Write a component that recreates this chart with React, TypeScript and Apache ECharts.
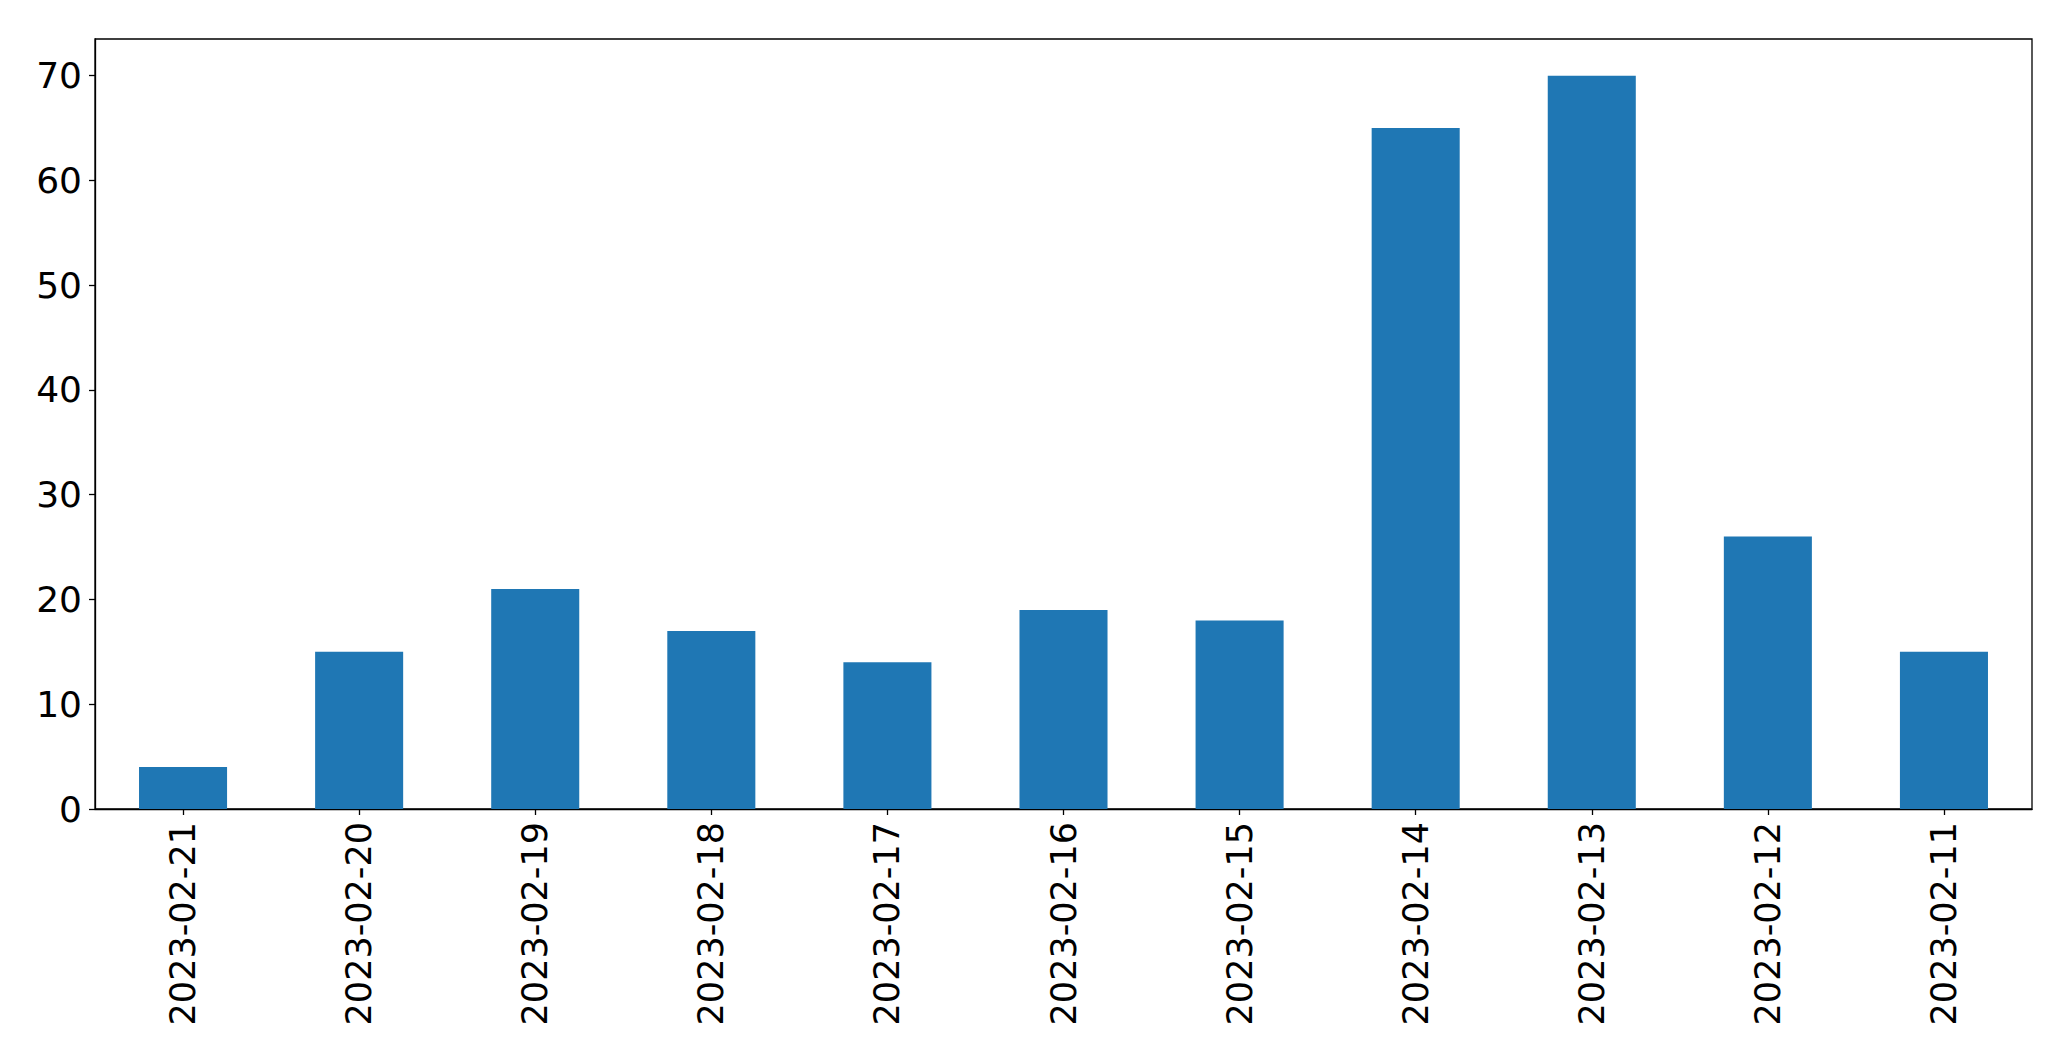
import React, { useEffect, useRef } from "react";
import * as echarts from "echarts";

const categories = [
  "2023-02-21", "2023-02-20", "2023-02-19", "2023-02-18", "2023-02-17", "2023-02-16",
  "2023-02-15", "2023-02-14", "2023-02-13", "2023-02-12", "2023-02-11",
];
const values = [4, 15, 21, 17, 14, 19, 18, 65, 70, 26, 15];
const yTicks = [0, 10, 20, 30, 40, 50, 60, 70];

export default function App() {
  const ref = useRef<HTMLDivElement>(null);
  useEffect(() => {
    if (!ref.current) return;
    const chart = echarts.init(ref.current, null, { renderer: "svg" });
    const font = "DejaVu Sans";
    chart.setOption({
      animation: false,
      backgroundColor: "#ffffff",
      grid: {
        left: 95,
        top: 39,
        right: 39,
        bottom: 252,
        show: true,
        borderColor: "#000000",
        borderWidth: 1.3,
        backgroundColor: "transparent",
      },
      xAxis: {
        type: "category",
        data: categories,
        boundaryGap: true,
        axisLine: { show: true, lineStyle: { color: "#000000", width: 1.3 } },
        axisTick: { show: true, alignWithLabel: true, length: 6, lineStyle: { color: "#000000", width: 1.3 } },
        axisLabel: {
          rotate: 90,
          fontSize: 35,
          fontFamily: font,
          color: "#000000",
          margin: 13,
          interval: 0,
        },
        splitLine: { show: false },
      },
      yAxis: {
        type: "value",
        min: 0,
        max: 73.5,
        interval: 10,
        axisLine: { show: true, lineStyle: { color: "#000000", width: 1.3 } },
        axisTick: { show: true, length: 6, customValues: yTicks, lineStyle: { color: "#000000", width: 1.3 } },
        axisLabel: {
          fontSize: 36,
          fontFamily: font,
          color: "#000000",
          margin: 13,
          customValues: yTicks,
        },
        splitLine: { show: false },
      },
      series: [
        {
          type: "bar",
          data: values,
          barWidth: "50%",
          itemStyle: { color: "#1f77b4" },
        },
      ],
    });
    return () => chart.dispose();
  }, []);
  return (
    <div
      ref={ref}
      style={{ position: "fixed", left: 0, top: 0, width: 2071, height: 1061 }}
    />
  );
}
